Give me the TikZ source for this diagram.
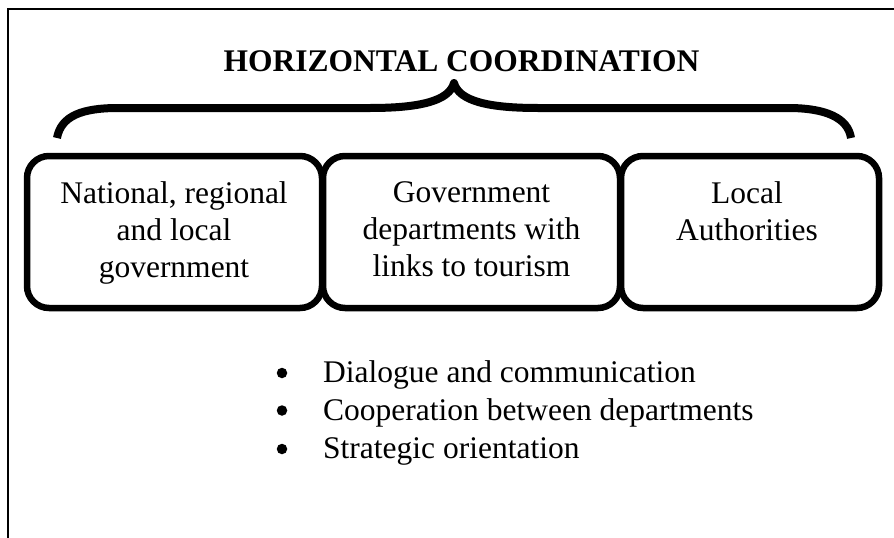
\documentclass[tikz,border=0pt]{standalone}
\usepackage{fontspec}
\setmainfont{Liberation Serif}
\begin{document}
\begin{tikzpicture}[x=1pt,y=-1pt,
  txt/.style={font=\fontsize{31.5}{37}\selectfont, inner sep=0pt, align=center},
  box/.style={draw, line width=6.5pt, rounded corners=22pt, minimum height=152pt, inner sep=0pt},
  dot/.style={circle, fill=black, inner sep=0pt, minimum size=10.5pt},
  frame/.style={line width=1.6pt},
  brace/.style={line width=8pt, line join=round}]
\useasboundingbox (0,0) rectangle (894,538);
\draw[frame] (8,538) -- (8,9) -- (894,9);
% title
\node[txt, font=\fontsize{31.5}{37}\selectfont\bfseries, anchor=base] (title) at (461.5,71) {HORIZONTAL COORDINATION};
% brace
\draw[brace] (57,138) .. controls (61,116) and (82,108) .. (118,108) -- (370,108)
  .. controls (420,108) and (449,101) .. (454,83)
  .. controls (459,101) and (488,108) .. (538,108) -- (788,108)
  .. controls (826,108) and (848,118) .. (851,138);
% boxes
\node[box, minimum width=295pt] (b1) at (174.5,232) {};
\node[box, minimum width=297pt] (b2) at (471.5,232) {};
\node[box, minimum width=258pt] (b3) at (750,232) {};
\node[txt, anchor=north] (t1) at (174,181) {National, regional\\and local\\government};
\node[txt, anchor=north] (t2) at (471.5,181) {Government\\departments with\\links to tourism};
\node[txt, anchor=north] (t3) at (747,181) {Local\\Authorities};
% bullets
\node[dot] (d1) at (282,373) {};
\node[dot] (d2) at (282,410.5) {};
\node[dot] (d3) at (282,449) {};
\node[txt, anchor=base west] (l1) at (323,382) {Dialogue and communication};
\node[txt, anchor=base west] (l2) at (323,420) {Cooperation between departments};
\node[txt, anchor=base west] (l3) at (323,458) {Strategic orientation};
\end{tikzpicture}
\end{document}
